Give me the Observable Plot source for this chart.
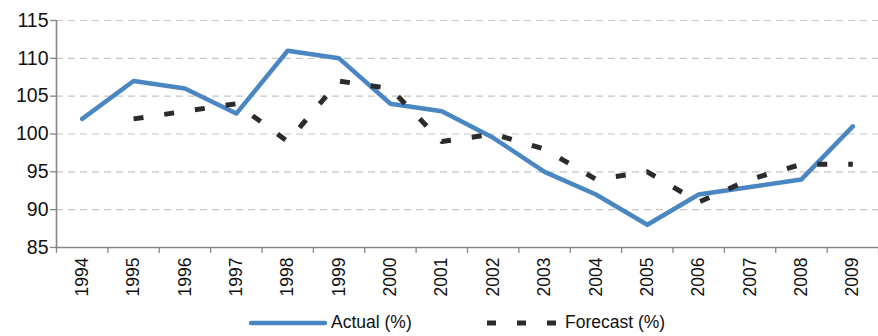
<!DOCTYPE html>
<html>
<head>
<meta charset="utf-8">
<script src="https://cdn.jsdelivr.net/npm/d3@7"></script>
<script src="https://cdn.jsdelivr.net/npm/@observablehq/plot@0.6"></script>
<style>
  html, body { margin: 0; padding: 0; background: #fff; }
  #chart { width: 878px; }
  #legend { position: relative; width: 878px; height: 32px; font-family: "Liberation Sans", Arial, sans-serif; font-size: 17.5px; color: #111; }
  #legend .item { position: absolute; top: 0; height: 32px; display: flex; align-items: center; }
  #legend svg { display: block; }
  #legend span { margin-left: 3px; padding-top: 5px; }
</style>
</head>
<body>
<div id="chart"></div>
<div id="legend"></div>
<script>
// Yearly values, 1994–2009
const years = [1994, 1995, 1996, 1997, 1998, 1999, 2000, 2001, 2002, 2003, 2004, 2005, 2006, 2007, 2008, 2009];
const actual = [102, 107, 106, 102.7, 111, 110, 104, 103, 99.5, 95, 92, 88, 92, 93, 94, 101];
const forecast = [null, 102, 103, 104, 99, 107, 106, 99, 100, 98, 94, 95, 91, 94, 96, 96];

// Axis ticks
const yTicks = [85, 90, 95, 100, 105, 110, 115];
const gridTicks = [90, 95, 100, 105, 110, 115];
const seriesNames = ["Actual (%)", "Forecast (%)"];

const blue = "#4a86c1";
const dark = "#2b2b2b";
const axisGrey = "#868686";

const rows = years.map((year, i) => ({year, actual: actual[i], forecast: forecast[i]}));
// category boundaries between years, for the x tick marks
const bounds = [years[0] - 0.5, ...years.map(y => y + 0.5)];

const chart = Plot.plot({
  width: 878,
  height: 304,
  marginLeft: 56,
  marginRight: 0,
  marginTop: 20,
  marginBottom: 57,
  x: {type: "linear", domain: [years[0] - 0.5, years[years.length - 1] + 0.5]},
  y: {domain: [85, 115]},
  style: {fontFamily: "'Liberation Sans', Arial, sans-serif", background: "#fff", overflow: "visible"},
  marks: [
    Plot.gridY(gridTicks, {stroke: "#c6c6c6", strokeOpacity: 1, strokeWidth: 1.2, strokeDasharray: "7,5"}),
    Plot.axisY(yTicks, {tickSize: 6, tickFormat: () => "", color: axisGrey, strokeWidth: 1.3, label: null}),
    Plot.axisY(yTicks, {tickSize: 0, tickPadding: 8, fontSize: 19.5, color: "#111", label: null}),
    Plot.axisX(bounds, {tickSize: 6, tickFormat: () => "", color: axisGrey, strokeWidth: 1.3, label: null}),
    Plot.axisX(years, {tickSize: 0, tickPadding: 10, tickRotate: -90, fontSize: 17.5, color: "#111", tickFormat: d => String(d), label: null}),
    Plot.ruleY([85], {stroke: axisGrey, strokeWidth: 1.6}),
    Plot.ruleX([years[0] - 0.5], {stroke: axisGrey, strokeWidth: 1.6}),
    Plot.line(rows, {x: "year", y: "actual", stroke: blue, strokeWidth: 4.5, strokeLinejoin: "round", strokeLinecap: "round"}),
    Plot.line(rows, {x: "year", y: "forecast", stroke: dark, strokeWidth: 5, strokeDasharray: "10,21", strokeLinecap: "butt"})
  ]
});
document.getElementById("chart").appendChild(chart);

// Legend below the plot
const legend = d3.select("#legend");
const a = legend.append("div").attr("class", "item").style("left", "248px");
const as = a.append("svg").attr("width", 80).attr("height", 32);
as.append("line").attr("x1", 3).attr("x2", 77).attr("y1", 19).attr("y2", 19)
  .attr("stroke", blue).attr("stroke-width", 4.5).attr("stroke-linecap", "round");
a.append("span").text(seriesNames[0]);

const f = legend.append("div").attr("class", "item").style("left", "486px");
const fs = f.append("svg").attr("width", 76).attr("height", 32);
fs.append("line").attr("x1", 1).attr("x2", 72).attr("y1", 19).attr("y2", 19)
  .attr("stroke", dark).attr("stroke-width", 5).attr("stroke-dasharray", "9,21");
f.append("span").text(seriesNames[1]);
</script>
</body>
</html>
